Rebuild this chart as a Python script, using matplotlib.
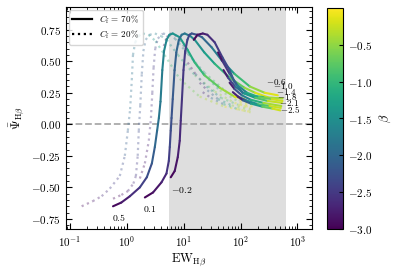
import numpy as np
import matplotlib
matplotlib.use('Agg')
import matplotlib.pyplot as plt
from matplotlib.collections import LineCollection
from matplotlib.lines import Line2D
from matplotlib.colors import Normalize

plt.rcParams['font.family'] = 'serif'
plt.rcParams['font.serif'] = ['cmr10']
plt.rcParams['mathtext.fontset'] = 'cm'
plt.rcParams['axes.formatter.use_mathtext'] = True

# each curve: (EW, Psi, beta)
# C_f = 70% (solid)
s_05 = [(0.57, -0.65, -3.0), (0.80, -0.62, -2.85), (1.13, -0.57, -2.7), (1.69, -0.50, -2.5),
        (2.24, -0.42, -2.35), (2.75, -0.31, -2.2), (3.10, -0.18, -2.05), (3.40, -0.05, -1.95),
        (3.65, 0.05, -1.85), (3.90, 0.18, -1.8), (4.20, 0.43, -1.7), (4.50, 0.58, -1.65),
        (5.00, 0.67, -1.6), (5.60, 0.71, -1.55), (6.40, 0.72, -1.5), (8.50, 0.69, -1.4),
        (11.7, 0.59, -1.25), (15.6, 0.49, -1.1), (23, 0.39, -0.9), (43, 0.29, -0.6),
        (78, 0.22, -0.3), (117, 0.20, 0.0)]
s_01 = [(2.07, -0.58, -3.0), (2.89, -0.54, -2.9), (4.06, -0.46, -2.75), (4.97, -0.39, -2.6),
        (5.46, -0.29, -2.5), (5.68, -0.18, -2.4), (5.91, -0.05, -2.3), (6.10, 0.05, -2.25),
        (6.40, 0.20, -2.2), (6.90, 0.43, -2.1), (7.40, 0.57, -2.05), (8.20, 0.67, -2.0),
        (9.20, 0.71, -1.9), (10.4, 0.72, -1.85), (13, 0.70, -1.7), (15.6, 0.67, -1.6),
        (23, 0.57, -1.4), (35, 0.48, -1.2), (64, 0.37, -0.9), (117, 0.29, -0.6),
        (180, 0.25, -0.35), (300, 0.215, 0.0)]
s_m02 = [(5.91, -0.42, -3.0), (6.94, -0.37, -2.9), (7.85, -0.26, -2.8), (8.50, -0.13, -2.7),
         (8.86, 0.03, -2.6), (9.30, 0.20, -2.55), (9.90, 0.43, -2.5), (10.6, 0.58, -2.45),
         (11.6, 0.67, -2.4), (12.6, 0.71, -2.35), (13.8, 0.72, -2.3), (17, 0.71, -2.2),
         (21, 0.69, -2.1), (31, 0.61, -1.9), (46, 0.51, -1.6), (78, 0.40, -1.2),
         (145, 0.30, -0.7), (265, 0.25, -0.3), (450, 0.23, 0.0)]
s_m06 = [(15.0, 0.67, -3.0), (17.5, 0.71, -2.9), (21.6, 0.72, -2.8), (26, 0.71, -2.7),
         (35, 0.65, -2.55), (48, 0.53, -2.4), (64, 0.43, -2.25), (78, 0.335, -2.1),
         (108, 0.25, -1.9), (162, 0.225, -1.4), (263, 0.215, -0.8), (546, 0.205, 0.0)]
s_m10 = [(40, 0.57, -3.0), (48, 0.50, -2.7), (64, 0.40, -2.3), (88, 0.31, -1.9),
         (130, 0.25, -1.4), (210, 0.215, -0.9), (350, 0.20, -0.45), (546, 0.185, 0.0)]
s_m14 = [(50, 0.43, -3.0), (60, 0.37, -2.6), (80, 0.30, -2.1), (115, 0.245, -1.6),
         (180, 0.21, -1.1), (300, 0.185, -0.55), (530, 0.17, 0.0)]
s_m18 = [(64, 0.33, -3.0), (78, 0.28, -2.5), (105, 0.23, -2.0), (150, 0.195, -1.4),
         (250, 0.17, -0.8), (520, 0.145, 0.0)]
s_m21 = [(73, 0.255, -3.0), (90, 0.22, -2.4), (125, 0.19, -1.8), (200, 0.16, -1.1),
         (320, 0.145, -0.5), (510, 0.13, 0.0)]
s_m25 = [(89, 0.22, -3.0), (110, 0.19, -2.4), (150, 0.165, -1.7), (240, 0.14, -1.0),
         (360, 0.125, -0.45), (500, 0.11, 0.0)]

# C_f = 20% (dotted)
d_05 = [(0.16, -0.65, -3.0), (0.25, -0.61, -2.85), (0.36, -0.57, -2.7), (0.50, -0.51, -2.55),
        (0.75, -0.41, -2.4), (0.92, -0.25, -2.2), (1.04, -0.05, -2.05), (1.14, 0.12, -1.95),
        (1.22, 0.35, -1.9), (1.28, 0.55, -1.85), (1.40, 0.65, -1.8), (1.60, 0.70, -1.7),
        (1.90, 0.72, -1.6), (2.4, 0.71, -1.5), (3.2, 0.66, -1.35), (4.6, 0.55, -1.15),
        (8.5, 0.36, -0.8), (19, 0.22, -0.5), (52, 0.14, -0.2), (145, 0.10, 0.0)]
d_01 = [(0.57, -0.59, -3.0), (0.80, -0.56, -2.9), (1.04, -0.53, -2.8), (1.30, -0.47, -2.65),
        (1.44, -0.41, -2.55), (1.55, -0.25, -2.4), (1.62, -0.05, -2.3), (1.72, 0.15, -2.2),
        (1.83, 0.40, -2.15), (1.95, 0.58, -2.1), (2.14, 0.67, -2.0), (2.5, 0.71, -1.9),
        (3.1, 0.72, -1.8), (4.0, 0.70, -1.65), (5.0, 0.67, -1.55), (7.9, 0.55, -1.3),
        (15.6, 0.39, -1.0), (35, 0.26, -0.6), (78, 0.17, -0.3), (145, 0.135, 0.0)]
d_m02 = [(1.69, -0.43, -3.0), (2.07, -0.31, -2.85), (2.43, -0.13, -2.7), (2.65, 0.05, -2.6),
         (2.80, 0.25, -2.55), (2.95, 0.45, -2.5), (3.15, 0.60, -2.45), (3.5, 0.68, -2.35),
         (4.3, 0.72, -2.2), (5.5, 0.71, -2.05), (7.0, 0.68, -1.9), (11.7, 0.56, -1.6),
         (23, 0.41, -1.2), (52, 0.27, -0.7), (96, 0.19, -0.3), (155, 0.16, 0.0)]
d_m06 = [(4.45, 0.62, -3.0), (5.0, 0.69, -2.85), (5.7, 0.72, -2.7), (7.0, 0.71, -2.55),
         (8.5, 0.67, -2.4), (12.7, 0.55, -2.1), (23, 0.39, -1.6), (43, 0.27, -1.0),
         (96, 0.175, -0.4), (162, 0.14, 0.0)]
d_m10 = [(11.7, 0.49, -3.0), (16, 0.40, -2.5), (25, 0.30, -1.9), (45, 0.21, -1.2),
         (90, 0.155, -0.5), (150, 0.13, 0.0)]
d_m14 = [(19, 0.33, -3.0), (26, 0.27, -2.4), (40, 0.20, -1.7), (70, 0.15, -1.0), (150, 0.115, 0.0)]
d_m18 = [(21.5, 0.255, -3.0), (30, 0.21, -2.3), (50, 0.16, -1.5), (90, 0.12, -0.7), (150, 0.095, 0.0)]

solid_curves = [s_05, s_01, s_m02, s_m06, s_m10, s_m14, s_m18, s_m21, s_m25]
dotted_curves = [d_05, d_01, d_m02, d_m06, d_m10, d_m14, d_m18]

# curve labels
left_labels = ['0.5', '0.1', '-0.2']
left_label_ew = [0.72, 2.5, 9.2]
left_label_psi = [-0.74, -0.67, -0.52]
right_labels = ['-0.6', '-1.0', '-1.4', '-1.8', '-2.1', '-2.5']
right_label_ew = [420, 560, 620, 660, 720, 730]
right_label_psi = [0.335, 0.30, 0.26, 0.215, 0.17, 0.12]

norm = Normalize(vmin=-3, vmax=0)
cmap = plt.get_cmap('viridis')


def draw_curve(ax, pts, ls, alpha, lw, cap):
    arr = np.array(pts)
    xy = arr[:, :2]
    segs = np.stack([xy[:-1], xy[1:]], axis=1)
    bmid = 0.5 * (arr[:-1, 2] + arr[1:, 2])
    lc = LineCollection(segs, cmap=cmap, norm=norm, linestyles=ls, alpha=alpha,
                        linewidths=lw, capstyle=cap)
    lc.set_array(bmid)
    ax.add_collection(lc)


fig = plt.figure(figsize=(3.99, 2.72), dpi=100)
ax = fig.add_axes([66/399, 1 - 229/272, 246/399, 222/272])
cax = fig.add_axes([327/399, 1 - 229/272, 16/399, 221/272])

ax.set_xscale('log')
ax.axvspan(5.5, 620, color='#dedede', zorder=0, lw=0)
ax.axhline(0, color='#aaaaaa', ls='--', lw=1.3, zorder=1)

for c in dotted_curves:
    draw_curve(ax, c, (0, (1.0, 1.6)), 0.35, 1.6, 'butt')
for c in solid_curves:
    draw_curve(ax, c, '-', 1.0, 1.5, 'round')

for t, x, y in zip(left_labels, left_label_ew, left_label_psi):
    ax.text(x, y, '$' + t + '$', fontsize=7, ha='center', va='center')
for t, x, y in zip(right_labels, right_label_ew, right_label_psi):
    ax.text(x, y, '$' + t + '$', fontsize=6.5, ha='center', va='center')

ax.set_xlim(0.085, 1800)
ax.set_ylim(-0.83, 0.93)
ax.set_yticks([-0.75, -0.5, -0.25, 0, 0.25, 0.5, 0.75])
ax.yaxis.set_minor_locator(plt.MultipleLocator(0.05))
ax.tick_params(which='both', direction='in', top=True, right=True, labelsize=8)
ax.tick_params(which='major', length=4)
ax.tick_params(which='minor', length=2)
ax.set_xlabel(r'$\mathrm{EW}_{\mathrm{H}\beta}$', fontsize=9, labelpad=2)
ax.set_ylabel(r'$\bar{\Psi}_{\mathrm{H}\beta}$', fontsize=9, labelpad=4)

handles = [Line2D([], [], color='k', ls='-', lw=1.6),
           Line2D([], [], color='k', ls=':', lw=1.6)]
ax.legend(handles, [r'$C_{\rm f}$ = 70%', r'$C_{\rm f}$ = 20%'], loc='upper left',
          fontsize=6.5, handlelength=2.2, borderaxespad=0.3, labelspacing=0.3)

sm = plt.cm.ScalarMappable(norm=norm, cmap=cmap)
cb = fig.colorbar(sm, cax=cax)
cb.set_ticks([-3.0, -2.5, -2.0, -1.5, -1.0, -0.5])
cb.ax.tick_params(labelsize=8, direction='in', length=3)
cb.set_label(r'$\beta$', fontsize=9)

fig.savefig('out.png', dpi=100)
